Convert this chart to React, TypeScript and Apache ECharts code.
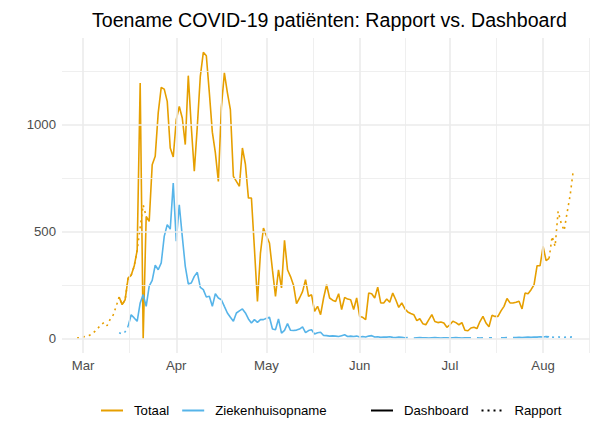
import React, { useEffect, useRef } from "react";
import * as echarts from "echarts";

// ---------- data ----------
const monthTicks = ["2020-03-01", "2020-04-01", "2020-05-01", "2020-06-01", "2020-07-01", "2020-08-01"];
const monthLabels = ["Mar", "Apr", "May", "Jun", "Jul", "Aug"];
const yMajorTicks = [0, 500, 1000];
const yMinorTicks = [250, 750, 1250];

// Totaal – Dashboard (daily, from 2020-03-13)
const totaalDashboardStart = "2020-03-13";
const totaalDashboard = [
  195, 159, 182, 284, 296, 338, 413, 1195, 0, 571, 548, 813, 852, 1055, 1174, 1166, 1109, 891, 849,
  1023, 1085, 1031, 907, 1229, 990, 782, 992, 1226, 1338, 1322, 1150, 965, 869, 735, 1080, 1242, 1150,
  1070, 758, 735, 712, 891, 815, 657, 657, 420, 174, 400, 517, 480, 447, 320, 198, 322, 237, 460, 322,
  290, 250, 164, 190, 220, 276, 198, 205, 128, 151, 112, 190, 252, 190, 180, 174, 210, 136, 193, 185,
  182, 136, 190, 104, 100, 89, 213, 210, 190, 241, 167, 167, 185, 170, 213, 182, 146, 167, 140, 125,
  118, 112, 84, 93, 70, 65, 89, 112, 80, 75, 78, 73, 53, 65, 81, 75, 65, 75, 39, 37, 50, 53, 47, 80,
  104, 73, 56, 109, 104, 104, 130, 151, 188, 167, 167, 170, 175, 139, 213, 210, 229, 252, 341, 341,
  431, 365, 375,
];

// Totaal – Rapport
const totaalRapportEarlyStart = "2020-02-28";
const totaalRapportEarly = [
  3, 5, 8, 11, 15, 22, 35, 50, 65, 76, 61, 90, 110, 150, 195, 159, 182, 284, 296, 338, 413, 520, 625, 571,
];
const totaalRapportLateStart = "2020-08-03";
const totaalRapportLate = [375, 478, 431, 595, 540, 505, 590, 670, 782];

// Ziekenhuisopname – Dashboard (daily, from 2020-03-16; null = missing day)
const zhDashboardStart = "2020-03-16";
const zhDashboard = [
  58, 112, 97, 81, 167, 206, 151, 245, 272, 343, 322, 354, 478, 533, 512, 727, 455, 626, 478, 338, 256,
  260, 291, 310, 240, 229, 195, 198, 151, 210, 190, 182, 151, 120, 100, 81, 120, 130, 139, 120, 92, 73,
  89, 76, 89, 89, 95, 100, 45, 42, 92, 26, 39, 70, 39, 38, 40, 45, 55, 28, 38, 42, 22, 28, 30, 15, 14,
  12, 13, 12, 10, 14, 18, 10, 12, 10, 12, 8, 10, 8, 12, 14, 8, 9, 6, 8, 7, 9, 6, 5, 7, 6, 4, 5, null,
  3, 4, 5, 4, 4, 3, 4, 5, 4, 3, 4, 4, 3, 4, 5, 4, 3, 4, 4, 4, null, 4, 3, 4, null, 4, 4, null, null, 4,
  4, 5, null, 5, 5, 6, 5, 6, 7, 6, 8, 7, 9, 8, 10, 9,
];

// Ziekenhuisopname – Rapport
const zhRapportEarlyStart = "2020-03-13";
const zhRapportEarly = [28, 22, 32, 58];
const zhRapportLateStart = "2020-08-02";
const zhRapportLate = [9, 8, 7, 6, 8, 7, 6, 8, 7, 9];

// ---------- helpers ----------
const DAY = 86400000;
const ts = (s: string) => {
  const [y, m, d] = s.split("-").map(Number);
  return Date.UTC(y, m - 1, d);
};
const toPairs = (start: string, vals: (number | null)[]) =>
  vals.map((v, i) => [ts(start) + i * DAY, v]);

const ORANGE = "#E69F00";
const BLUE = "#56B4E9";
const GRID = "#EBEBEB";
const FONT = "'Liberation Sans', Arial, Helvetica, sans-serif";
const DOT: number[] = [2, 4];

export default function App() {
  const ref = useRef<HTMLDivElement>(null);
  useEffect(() => {
    if (!ref.current) return;
    const chart = echarts.init(ref.current, undefined, { renderer: "svg" });

    const monthTs = monthTicks.map(ts);
    const xMin = monthTs[0] - 7.0 * DAY;
    const xMax = monthTs[5] + 15.6 * DAY;
    const minorX: number[] = [];
    for (let i = 0; i < monthTs.length; i++) {
      const next = i + 1 < monthTs.length ? monthTs[i + 1] : ts("2020-09-01");
      minorX.push((monthTs[i] + next) / 2);
    }

    const gridLines: any[] = [];
    yMinorTicks.forEach((v) => gridLines.push({ yAxis: v, lineStyle: { color: GRID, width: 0.8, type: "solid" } }));
    yMajorTicks.forEach((v) => gridLines.push({ yAxis: v, lineStyle: { color: GRID, width: 1.6, type: "solid" } }));
    minorX.forEach((v) => gridLines.push({ xAxis: v, lineStyle: { color: GRID, width: 0.8, type: "solid" } }));
    monthTs.forEach((v) => gridLines.push({ xAxis: v, lineStyle: { color: GRID, width: 1.6, type: "solid" } }));

    const lineBase = {
      type: "line" as const,
      symbol: "none",
      showSymbol: false,
      connectNulls: false,
      z: 3,
    };

    const legendCommon = {
      top: 404,
      padding: 0,
      itemWidth: 22,
      itemHeight: 14,
      itemGap: 12,
      itemStyle: { opacity: 0 },
      textStyle: { fontFamily: FONT, fontSize: 13.2, color: "#000", padding: [0, 0, 0, 6] },
      selectedMode: false,
    };

    chart.setOption({
      animation: false,
      textStyle: { fontFamily: FONT },
      title: {
        text: "Toename COVID-19 patiënten: Rapport vs. Dashboard",
        left: 87,
        top: 5,
        textStyle: { fontFamily: FONT, fontSize: 19.6, fontWeight: "normal", color: "#000" },
      },
      grid: { left: 62, right: 2, top: 38, bottom: 71 },
      legend: [
        { ...legendCommon, data: ["Totaal", "Ziekenhuisopname"], left: 100 },
        { ...legendCommon, data: ["Dashboard", "Rapport"], left: 370 },
      ],
      xAxis: {
        type: "value",
        min: xMin,
        max: xMax,
        axisLine: { show: false },
        axisTick: { show: false },
        splitLine: { show: false },
        axisLabel: {
          customValues: monthTs,
          formatter: (v: number) => {
            const i = monthTs.indexOf(v);
            return i >= 0 ? monthLabels[i] : "";
          },
          color: "#4D4D4D",
          fontSize: 13.2,
          fontFamily: FONT,
          margin: 6,
        },
      },
      yAxis: {
        type: "value",
        min: -67,
        max: 1405,
        axisLine: { show: false },
        axisTick: { show: false },
        splitLine: { show: false },
        axisLabel: {
          customValues: yMajorTicks,
          formatter: (v: number) => String(v),
          color: "#4D4D4D",
          fontSize: 13.2,
          fontFamily: FONT,
          margin: 6,
        },
      },
      series: [
        {
          name: "grid",
          type: "line",
          data: [],
          z: 1,
          markLine: { silent: true, symbol: "none", label: { show: false }, animation: false, data: gridLines },
        },
        { ...lineBase, name: "Totaal", data: toPairs(totaalDashboardStart, totaalDashboard), color: ORANGE, lineStyle: { color: ORANGE, width: 1.6 } },
        { ...lineBase, name: "Ziekenhuisopname", data: toPairs(zhDashboardStart, zhDashboard), color: BLUE, lineStyle: { color: BLUE, width: 1.6 } },
        { ...lineBase, name: "Totaal R1", data: toPairs(totaalRapportEarlyStart, totaalRapportEarly), color: ORANGE, lineStyle: { color: ORANGE, width: 1.6, type: DOT } },
        { ...lineBase, name: "Totaal R2", data: toPairs(totaalRapportLateStart, totaalRapportLate), color: ORANGE, lineStyle: { color: ORANGE, width: 1.6, type: DOT } },
        { ...lineBase, name: "Zh R1", data: toPairs(zhRapportEarlyStart, zhRapportEarly), color: BLUE, lineStyle: { color: BLUE, width: 1.6, type: DOT } },
        { ...lineBase, name: "Zh R2", data: toPairs(zhRapportLateStart, zhRapportLate), color: BLUE, lineStyle: { color: BLUE, width: 1.6, type: DOT } },
        { ...lineBase, name: "Dashboard", data: [], color: "#000", lineStyle: { color: "#000", width: 1.6 } },
        { ...lineBase, name: "Rapport", data: [], color: "#000", lineStyle: { color: "#000", width: 1.6, type: DOT } },
      ],
    });
    return () => chart.dispose();
  }, []);
  return <div ref={ref} style={{ position: "absolute", left: 0, top: 0, width: 592, height: 424 }} />;
}
